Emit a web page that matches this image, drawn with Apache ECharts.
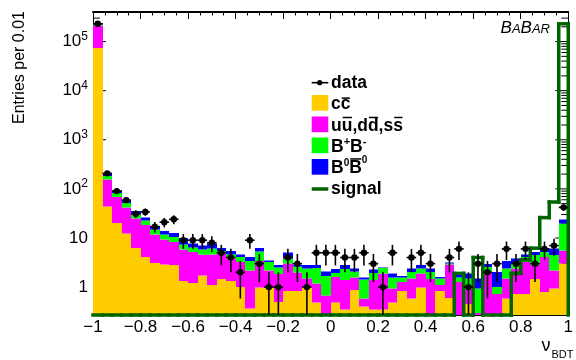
<!DOCTYPE html>
<html lang="en">
<head>
<meta charset="UTF-8" />
<title>nu_BDT</title>
<script src="https://cdn.jsdelivr.net/npm/echarts@6.0.0/dist/echarts.min.js"></script>
<style>
    html, body { margin: 0; padding: 0; background: #fff; }
    #chart { width: 576px; height: 360px; }
</style>
</head>
<body>
<div id="chart"></div>
<script>
// 50 bins of width 0.04 between -1 and 1
const binStart = -1;
const binWidth = 0.04;

const ccbar = [74000, 44, 20, 12.3, 6.3, 4.1, 3.06, 2.88, 2.8, 1.34,
    1.2, 1.72, 1.09, 1.45, 1.34, 1.0, 0.37, 0.98, 0.98, 0.5,
    0.84, 0.84, 0.98, 0.48, 0, 0.48, 0.35, 0.87, 0.4, 0.35,
    0.35, 0.48, 0.84, 0.59, 0.98, 0, 0.84, 0.6, 0, 0.45,
    0, 0, 0, 0.59, 0.72, 0.72, 1.45, 0.8, 0.94, 3.0];
const udsbar = [137000, 110, 48, 29.2, 18.5, 14.3, 8.84, 6.52, 5.5, 4.46,
    4.0, 2.88, 3.57, 3.35, 2.46, 2.25, 1.83, 2.42, 1.22, 1.33,
    2.16, 1.16, 0.52, 0.7, 0.68, 1.13, 1.03, 0.7, 0.19, 1.03,
    1.54, 0.46, 0.44, 0.91, 0.91, 1.47, 0.25, 2.3, 1.28, 0.45,
    0.3, 2.04, 0.72, 0.91, 1.67, 2.53, 1.34, 3.3, 1.26, 2.5];
const bchargedbar = [14000, 31, 15, 9.5, 5.2, 4.5, 3.1, 2.5, 2.2, 1.6,
    1.2, 1.2, 1.44, 0.6, 0.86, 0.85, 1.16, 1.96, 1.05, 0.67,
    0.8, 0.6, 0.89, 1.28, 0.99, 0.33, 0.93, 0.53, 0.84, 0.56,
    0.56, 0.63, 0.29, 0.54, 0.5, 0.57, 0.41, 0.1, 0.27, 0.6,
    0.64, 0.53, 0.28, 0.89, 0.61, 0.85, 1.66, 1.1, 2.25, 14.1];
const bneutralbar = [15000, 19, 9, 7, 5.4, 3.4, 2.5, 2.0, 2.1, 2.6,
    1.3, 1.3, 1.6, 0.85, 0.74, 0.5, 0.74, 0.89, 0.25, 0.29,
    1.25, 0.2, 0.4, 0.33, 0.43, 0.37, 0.48, 0.29, 0.14, 0.34,
    0.05, 0.32, 0.12, 0.35, 0.4, 0.35, 0.1, 0.2, 0.34, 0.4,
    0.56, 0.35, 1.04, 0.97, 0.8, 0.56, 0.75, 0.9, 1.65, 4.3];
const dataCounts = [230000, 207, 90, 59, 31, 34, 17, 21, 24, 9,
    9, 9, 8, 5, 4, 2, 9, 3, 1, 1,
    4, 3, 1, 5, 5, 5, 4, 4, 5, 3,
    1, 5, 0, 4, 5, 3, 0, 4, 6, 1,
    3, 2, 3, 6, 3, 6, 3, 6, 7, 42];
const signalbar = [0, 0, 0, 0, 0, 0, 0, 0, 0, 0,
    0, 0, 0, 0, 0, 0, 0, 0, 0, 0,
    0, 0, 0, 0, 0, 0, 0, 0, 0, 0,
    0, 0, 0, 0, 0, 0, 0, 0, 1.9, 0,
    4.0, 0, 0, 0, 1.9, 3.6, 6.2, 26, 54, 230000];

const yMin = 0.27;
const yMax = 4e5;
const FONT = '"Liberation Sans", Arial, sans-serif';
const SIGNAL_COLOR = '#006400';

const layers = [
    { name: 'cc', values: ccbar, color: '#ffcc00' },
    { name: 'uds', values: udsbar, color: '#ff00ff' },
    { name: 'B+B-', values: bchargedbar, color: '#00ff00' },
    { name: 'B0B0', values: bneutralbar, color: '#0000ff' }
];

// stack the backgrounds bin by bin
const base = ccbar.map(() => 0);
layers.forEach(layer => {
    layer.items = layer.values.map((v, i) => {
        const lo = base[i];
        base[i] = lo + v;
        return [binStart + i * binWidth, binStart + (i + 1) * binWidth, lo, lo + v];
    });
});

const dataItems = [];
dataCounts.forEach((n, i) => {
    if (n > 0) dataItems.push([binStart + (i + 0.5) * binWidth, n]);
});

// signal outline: one item per bin [x0, x1, previous level, level], plus closing edge
const signalItems = signalbar.map((v, i) => [
    binStart + i * binWidth, binStart + (i + 1) * binWidth,
    i === 0 ? 0 : signalbar[i - 1], v
]);
signalItems.push([1, 1, signalbar[signalbar.length - 1], 0]);

// log ticks on both vertical sides (major + 2..9 minor)
const tickItems = [];
for (let e = -1; e <= 5; e++) {
    for (let m = 1; m <= 9; m++) {
        const v = m * Math.pow(10, e);
        if (v > yMin && v < yMax) {
            tickItems.push([-1, v, m === 1 ? 1 : 0]);
            tickItems.push([1, v, m === 1 ? 1 : 0]);
        }
    }
}

function gridRect(params) {
    const cs = params.coordSys;
    return { x: cs.x, y: cs.y, width: cs.width, height: cs.height };
}

function renderBar(params, api) {
    const lo = api.value(2), hi = api.value(3);
    if (hi <= yMin || hi <= lo) return;
    const p0 = api.coord([api.value(0), hi]);
    const p1 = api.coord([api.value(1), Math.max(lo, yMin)]);
    const x0 = Math.round(p0[0]), x1 = Math.round(p1[0]);
    const y0 = Math.round(p0[1] * 2) / 2, y1 = Math.round(p1[1] * 2) / 2;
    const rect = echarts.graphic.clipRectByRect(
        { x: x0, y: y0, width: x1 - x0, height: y1 - y0 }, gridRect(params));
    if (!rect) return;
    return { type: 'rect', shape: rect, style: { fill: api.visual('color') } };
}

function renderSignal(params, api) {
    const x0 = api.value(0), x1 = api.value(1);
    const prev = Math.max(api.value(2), yMin), cur = Math.max(api.value(3), yMin);
    const a = api.coord([x0, prev]);
    const b = api.coord([x0, cur]);
    const c = api.coord([x1, cur]);
    const st = { stroke: SIGNAL_COLOR, lineWidth: 3.5, lineCap: 'square', fill: null };
    const children = [];
    if (Math.abs(a[1] - b[1]) > 0.1) {
        children.push({ type: 'line', shape: { x1: a[0], y1: a[1], x2: b[0], y2: b[1] }, style: st });
    }
    if (c[0] - b[0] > 0.1) {
        children.push({ type: 'line', shape: { x1: b[0], y1: b[1], x2: c[0], y2: c[1] }, style: st });
    }
    return { type: 'group', children: children };
}

function renderData(params, api) {
    const xc = api.value(0), n = api.value(1);
    const err = Math.sqrt(n);
    const c = api.coord([xc, n]);
    const l = api.coord([xc - binWidth / 2, n]);
    const r = api.coord([xc + binWidth / 2, n]);
    const top = api.coord([xc, n + err]);
    const bot = api.coord([xc, Math.max(n - err, yMin)]);
    const st = { stroke: '#000', lineWidth: 1.6 };
    return {
        type: 'group',
        children: [
            { type: 'line', shape: { x1: l[0], y1: l[1], x2: r[0], y2: r[1] }, style: st },
            { type: 'line', shape: { x1: top[0], y1: top[1], x2: bot[0], y2: bot[1] }, style: st },
            { type: 'circle', shape: { cx: c[0], cy: c[1], r: 3.2 }, style: { fill: '#000' } }
        ]
    };
}

function renderTick(params, api) {
    const side = api.value(0);
    const p = api.coord([side, api.value(1)]);
    const len = api.value(2) ? 13 : 7;
    const x2 = side < 0 ? p[0] + len : p[0] - len;
    return {
        type: 'line',
        shape: { x1: p[0], y1: p[1], x2: x2, y2: p[1] },
        style: { stroke: '#000', lineWidth: 1 }
    };
}

// --- text pieces (legend, titles) laid out with measured widths ---
const measureCtx = document.createElement('canvas').getContext('2d');
function textWidth(t, font) {
    measureCtx.font = font;
    return measureCtx.measureText(t).width;
}
function fontStr(size, bold, italic) {
    return (italic ? 'italic ' : '') + (bold ? 'bold ' : '') + size + 'px ' + FONT;
}
// parts: {t, size, dy, bar, italic}
function textParts(x, baseline, parts, bold, align) {
    const els = [];
    const widths = parts.map(p => textWidth(p.t, fontStr(p.size, bold, p.italic)) + (p.gap || 0));
    const total = widths.reduce((a, b) => a + b, 0);
    let cx = align === 'right' ? x - total : x;
    parts.forEach((p, k) => {
        const yb = baseline + (p.dy || 0);
        els.push({
            type: 'text', x: cx, y: yb - 0.31 * p.size,
            style: {
                text: p.t, fill: '#000', fontSize: p.size, fontFamily: FONT,
                fontWeight: bold ? 'bold' : 'normal', fontStyle: p.italic ? 'italic' : 'normal',
                align: 'left', verticalAlign: 'middle'
            }
        });
        if (p.bar) {
            const by = baseline - p.bar * p.size;
            els.push({
                type: 'line',
                shape: { x1: cx + 1, y1: by, x2: cx + widths[k] - 0.5, y2: by },
                style: { stroke: '#000', lineWidth: 1.5 }
            });
        }
        cx += widths[k];
    });
    return els;
}

const LS = 17.5;  // legend font size
const legendX = 311.7, legendTextX = 331;
const legendRows = [88.3, 110, 131.5, 152.5, 174, 194.3];
const graphics = [];

// data entry
graphics.push({ type: 'line', shape: { x1: legendX, y1: legendRows[0] - 5.6, x2: legendX + 16.6, y2: legendRows[0] - 5.6 }, style: { stroke: '#000', lineWidth: 1.6 } });
graphics.push({ type: 'circle', shape: { cx: legendX + 8, cy: legendRows[0] - 5.6, r: 2.6 }, style: { fill: '#000' } });
graphics.push(...textParts(legendTextX, legendRows[0], [{ t: 'data', size: LS }], true));

// filled boxes
layers.forEach((layer, k) => {
    const b = legendRows[k + 1];
    graphics.push({ type: 'rect', shape: { x: legendX, y: b - 15, width: 16.6, height: 15.7 }, style: { fill: layer.color } });
});
graphics.push(...textParts(legendTextX, legendRows[1], [
    { t: 'c', size: LS }, { t: 'c', size: LS, bar: 0.68 }], true));
graphics.push(...textParts(legendTextX, legendRows[2], [
    { t: 'u', size: LS }, { t: 'u', size: LS, bar: 0.8 }, { t: ',d', size: LS },
    { t: 'd', size: LS, bar: 0.8 }, { t: ',s', size: LS }, { t: 's', size: LS, bar: 0.8 }], true));
graphics.push(...textParts(legendTextX, legendRows[3], [
    { t: 'B', size: LS }, { t: '+', size: 11, dy: -7 }, { t: 'B', size: LS },
    { t: '-', size: 11, dy: -7 }], true));
graphics.push(...textParts(legendTextX, legendRows[4], [
    { t: 'B', size: LS }, { t: '0', size: 10, dy: -8 }, { t: 'B', size: LS, bar: 0.86 },
    { t: '0', size: 10, dy: -11 }], true));

// signal entry
graphics.push({ type: 'line', shape: { x1: legendX, y1: legendRows[5] - 5.3, x2: legendX + 16.6, y2: legendRows[5] - 5.3 }, style: { stroke: SIGNAL_COLOR, lineWidth: 3.5 } });
graphics.push(...textParts(legendTextX, legendRows[5], [{ t: 'signal', size: LS }], true));

// BABAR tag
graphics.push(...textParts(550, 33.3, [
    { t: 'B', size: 17, italic: true }, { t: 'A', size: 13, italic: true },
    { t: 'B', size: 17, italic: true }, { t: 'AR', size: 13, italic: true }], false, 'right'));

// x title
graphics.push(...textParts(541.5, 351.7, [
    { t: 'ν', size: 18, gap: 1 }, { t: 'BDT', size: 11, dy: 6.3 }], false));

// y title
graphics.push({
    type: 'text', x: 20, y: 67.5, rotation: Math.PI / 2,
    style: { text: 'Entries per 0.01', fill: '#000', fontSize: 16, fontFamily: FONT, align: 'center', verticalAlign: 'middle' }
});

function yLabel(v) {
    const lg = Math.log10(v);
    const e = Math.round(lg);
    if (Math.abs(lg - e) > 1e-6) return '';
    if (e === 0) return '1';
    if (e === 1) return '10';
    return '10{sup|' + e + '}';
}

const chart = echarts.init(document.getElementById('chart'), null, { renderer: 'canvas' });
chart.setOption({
    animation: false,
    backgroundColor: '#fff',
    grid: { left: 93, right: 2, top: 12, bottom: 45, containLabel: false },
    xAxis: [{
        type: 'value', min: -1, max: 1, interval: 0.2, position: 'bottom',
        axisLine: { onZero: false, lineStyle: { color: '#000', width: 1 } },
        axisTick: { inside: true, length: 7, lineStyle: { color: '#000' } },
        splitLine: { show: false },
        axisLabel: {
            color: '#000', fontSize: 17, fontFamily: FONT, margin: 4,
            showMinLabel: true, showMaxLabel: true,
            formatter: v => {
                const s = (Math.round(v * 10) / 10).toString();
                return s.replace('-', '\u2212');
            }
        }
    }, {
        type: 'value', min: -1, max: 1, interval: 0.2, position: 'top',
        axisLine: { onZero: false, lineStyle: { color: '#000', width: 2 } },
        axisTick: { inside: true, length: 7, lineStyle: { color: '#000' } },
        minorTick: { show: true, splitNumber: 4, length: 3.5, lineStyle: { color: '#000' } },
        axisLabel: { show: false },
        splitLine: { show: false }
    }],
    yAxis: [{
        type: 'log', logBase: 10, min: yMin, max: yMax, position: 'left',
        axisLine: { show: true, onZero: false, lineStyle: { color: '#000', width: 1 } },
        axisTick: { show: false },
        splitLine: { show: false },
        axisLabel: {
            color: '#000', fontSize: 17, fontFamily: FONT, margin: 5,
            showMinLabel: false, showMaxLabel: false,
            formatter: yLabel,
            rich: { sup: { fontSize: 12, fontFamily: FONT, color: '#000', padding: [0, 0, 10, 0] } }
        }
    }, {
        type: 'log', logBase: 10, min: yMin, max: yMax, position: 'right',
        axisLine: { show: true, onZero: false, lineStyle: { color: '#000', width: 1 } },
        axisTick: { show: false },
        axisLabel: { show: false },
        splitLine: { show: false }
    }],
    series: [
        {
            type: 'custom', name: 'ticks', z: 1, silent: true,
            renderItem: renderTick, data: tickItems,
            encode: { x: 0, y: 1 }
        },
        ...layers.map(layer => ({
            type: 'custom', name: layer.name, z: 2,
            itemStyle: { color: layer.color },
            renderItem: renderBar,
            data: layer.items,
            encode: { x: [0, 1], y: [2, 3] }
        })),
        {
            type: 'custom', name: 'signal', z: 3, clip: false,
            renderItem: renderSignal,
            data: signalItems,
            encode: { x: [0, 1], y: [2, 3] }
        },
        {
            type: 'custom', name: 'data', z: 4,
            renderItem: renderData, data: dataItems,
            encode: { x: 0, y: 1 }
        }
    ],
    graphic: graphics
});
</script>
</body>
</html>
